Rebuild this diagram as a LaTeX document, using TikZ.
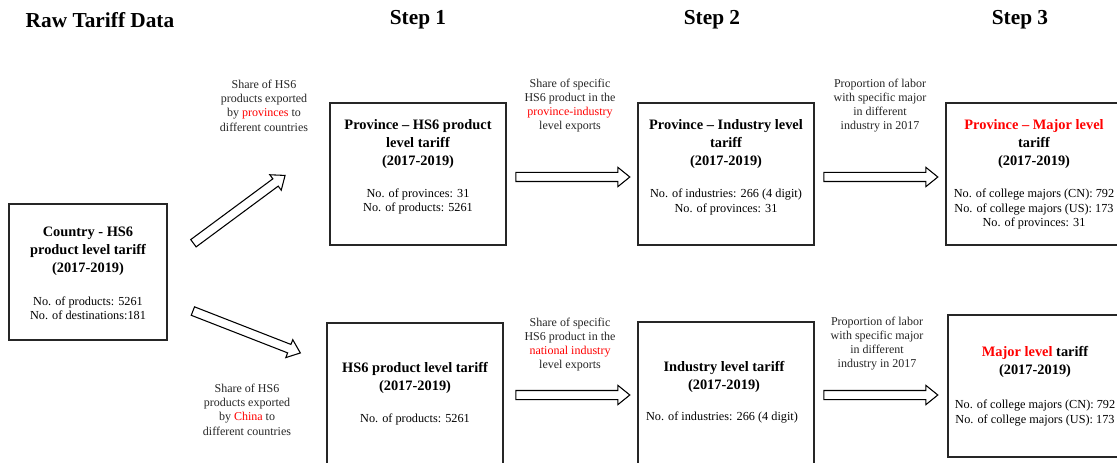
\documentclass[tikz,border=0pt]{standalone}
\usepackage{fontspec}
\setmainfont{Liberation Serif}
\usetikzlibrary{shapes.arrows}
\definecolor{hl}{RGB}{255,0,0}
\tikzset{
  box/.style={draw=black!85, line width=1pt, minimum width=132pt, minimum height=106.5pt, inner sep=0pt},
  boxtitle/.style={font=\fontsize{10.8pt}{13.5pt}\selectfont\bfseries, align=center, inner sep=0pt},
  boxinfo/.style={font=\fontsize{9.2pt}{10.7pt}\selectfont, align=center, inner sep=0pt},
  steplabel/.style={font=\fontsize{9pt}{10.7pt}\selectfont, align=center, inner sep=0pt, text=black!85},
  heading/.style={font=\fontsize{16pt}{19pt}\selectfont\bfseries, inner sep=0pt},
  blockarrow/.style={single arrow, draw=black, line width=0.8pt, fill=white, inner xsep=0pt, inner ysep=3pt,
     minimum width=0pt, single arrow head extend=3.8pt, single arrow tip angle=78, minimum height=85.5pt}
}
\begin{document}
\begin{tikzpicture}[x=0.75pt, y=-0.75pt]
\useasboundingbox (0,0) rectangle (1117,463);
\clip (0,0) rectangle (1117,463);
% headings
\node[heading] (h0) at (100,20) {Raw Tariff Data};
\node[heading] (h1) at (418,20) {Step 1};
\node[heading] (h2) at (712,20) {Step 2};
\node[heading] (h3) at (1020,20) {Step 3};
% boxes
\node[box, minimum width=118.5pt, minimum height=102pt] (country) at (88,272) {};
\node[box] (provhs) at (418,174) {};
\node[box] (provind) at (726,174) {};
\node[box] (provmaj) at (1034,174) {};
\node[box] (hs) at (415,394) {};
\node[box] (ind) at (726,393) {};
\node[box] (maj) at (1036,386) {};
% box texts
\node[boxtitle] (countryt) at (88,251.5) {Country - HS6\\product level tariff\\(2017-2019)};
\node[boxinfo] (countryi) at (88,308) {No. of products: 5261\\No. of destinations:181};
\node[boxtitle] (provhst) at (418,144) {Province -- HS6 product\\level tariff\\(2017-2019)};
\node[boxinfo] (provhsi) at (418,201.5) {No. of provinces: 31\\No. of products: 5261};
\node[boxtitle] (provindt) at (726,144) {Province -- Industry level\\tariff\\(2017-2019)};
\node[boxinfo] (provindi) at (726,202) {No. of industries: 266 (4 digit)\\No. of provinces: 31};
\node[boxtitle] (provmajt) at (1034,144) {\textcolor{hl}{Province -- Major level}\\tariff\\(2017-2019)};
\node[boxinfo] (provmaji) at (1034,209) {No. of college majors (CN): 792\\No. of college majors (US): 173\\No. of provinces: 31};
\node[boxtitle] (hst) at (415,377.5) {HS6 product level tariff\\(2017-2019)};
\node[boxinfo] (hsi) at (415,419) {No. of products: 5261};
\node[boxtitle] (indt) at (724,377) {Industry level tariff\\(2017-2019)};
\node[boxinfo] (indi) at (722,418) {No. of industries: 266 (4 digit)};
\node[boxtitle] (majt) at (1035,362) {\textcolor{hl}{Major level} tariff\\(2017-2019)};
\node[boxinfo] (maji) at (1035,413) {No. of college majors (CN): 792\\No. of college majors (US): 173};
% step labels
\node[steplabel] (l1) at (264,105.5) {Share of HS6\\products exported\\by \textcolor{hl}{provinces} to\\different countries};
\node[steplabel] (l2) at (247,409.5) {Share of HS6\\products exported\\by \textcolor{hl}{China} to\\different countries};
\node[steplabel] (l3) at (570,105.5) {Share of specific\\HS6 product in the\\\textcolor{hl}{province-industry}\\level exports};
\node[steplabel] (l4) at (880,105.5) {Proportion of labor\\with specific major\\in different\\industry in 2017};
\node[steplabel] (l5) at (570,344.5) {Share of specific\\HS6 product in the\\\textcolor{hl}{national industry}\\level exports};
\node[steplabel] (l6) at (877,343.5) {Proportion of labor\\with specific major\\in different\\industry in 2017};
% block arrows
\node[blockarrow, rotate=36.5] (a1) at (237,211) {};
\node[blockarrow, rotate=-21.3, minimum height=86.5pt] (a2) at (244,331) {};
\node[blockarrow] (a3) at (570,177) {};
\node[blockarrow] (a4) at (878,177) {};
\node[blockarrow] (a5) at (570,395) {};
\node[blockarrow] (a6) at (878,395) {};
\end{tikzpicture}
\end{document}
